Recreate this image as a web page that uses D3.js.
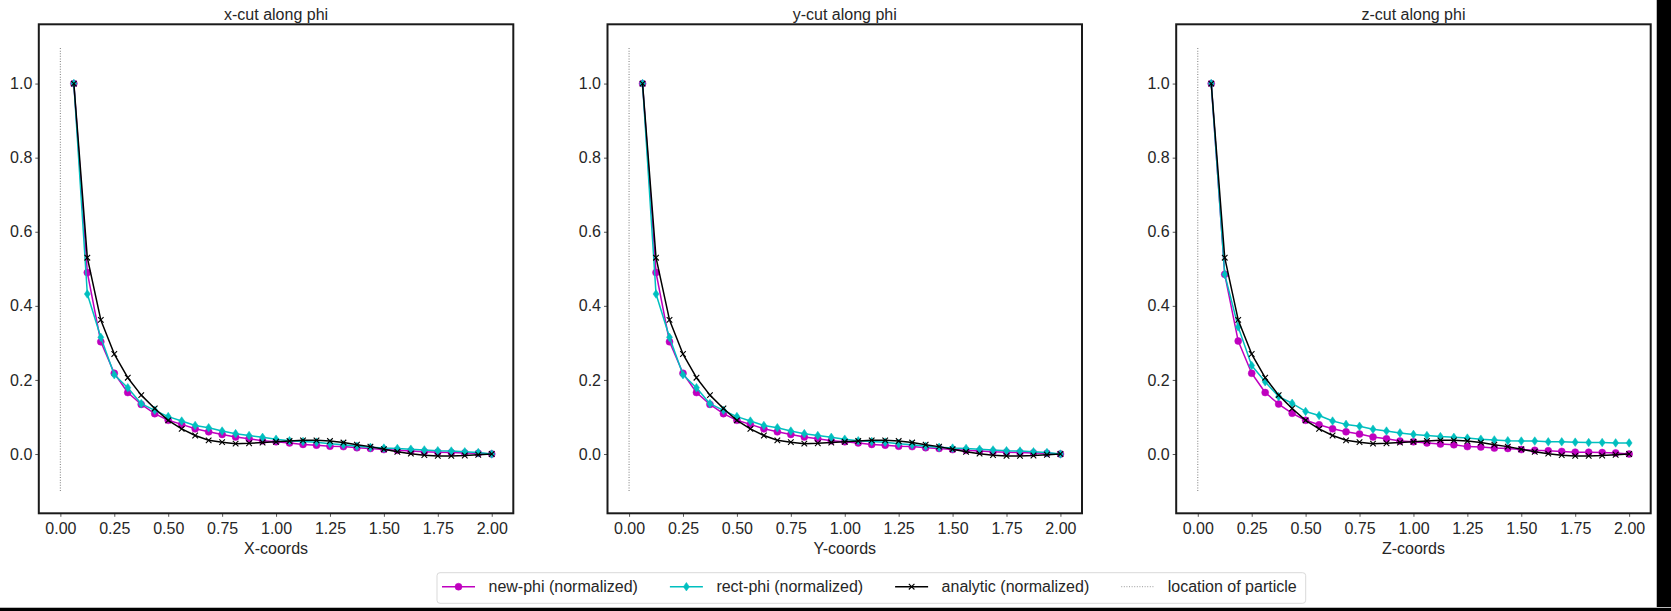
<!DOCTYPE html>
<html>
<head>
<meta charset="utf-8">
<script src="https://cdn.jsdelivr.net/npm/d3@7"></script>
<style>
  html, body { margin: 0; padding: 0; background: #fff; }
  svg text { font-family: "Liberation Sans", Arial, Helvetica, sans-serif; fill: #262626; }
</style>
</head>
<body>
<div id="container"></div>
<script>
"use strict";

const width = 1671;
const height = 611;

// sample positions along the cut (grid step 1/16)
const coords = [0.0625, 0.125, 0.1875, 0.25, 0.3125, 0.375, 0.4375, 0.5,
    0.5625, 0.625, 0.6875, 0.75, 0.8125, 0.875, 0.9375, 1.0,
    1.0625, 1.125, 1.1875, 1.25, 1.3125, 1.375, 1.4375, 1.5,
    1.5625, 1.625, 1.6875, 1.75, 1.8125, 1.875, 1.9375, 2.0];

// normalized potentials
const analytic = [1.0, 0.53, 0.362, 0.27, 0.206, 0.159, 0.123, 0.091,
    0.068, 0.05, 0.037, 0.032, 0.028, 0.029, 0.031, 0.033,
    0.035, 0.037, 0.037, 0.035, 0.031, 0.025, 0.02, 0.013,
    0.006, 0.001, -0.003, -0.005, -0.005, -0.004, -0.002, 0.0];

const newPhiXY = [1.0, 0.49, 0.303, 0.218, 0.166, 0.134, 0.109, 0.091,
    0.08, 0.068, 0.06, 0.053, 0.046, 0.041, 0.036, 0.033,
    0.03, 0.026, 0.024, 0.021, 0.02, 0.017, 0.015, 0.012,
    0.01, 0.008, 0.006, 0.005, 0.004, 0.003, 0.002, 0.0];

const newPhiZ = [1.0, 0.485, 0.305, 0.218, 0.166, 0.135, 0.11, 0.091,
    0.079, 0.068, 0.06, 0.054, 0.046, 0.041, 0.035, 0.033,
    0.03, 0.027, 0.025, 0.02, 0.019, 0.016, 0.015, 0.012,
    0.01, 0.009, 0.007, 0.005, 0.005, 0.004, 0.003, 0.0];

const rectPhiXY = [1.0, 0.432, 0.315, 0.214, 0.179, 0.136, 0.118, 0.101,
    0.089, 0.077, 0.071, 0.062, 0.055, 0.05, 0.045, 0.04,
    0.036, 0.034, 0.032, 0.028, 0.025, 0.021, 0.018, 0.016,
    0.015, 0.013, 0.011, 0.009, 0.008, 0.006, 0.004, 0.0];

const rectPhiZ = [1.0, 0.485, 0.343, 0.239, 0.195, 0.155, 0.137, 0.115,
    0.104, 0.089, 0.08, 0.075, 0.067, 0.062, 0.057, 0.053,
    0.05, 0.047, 0.045, 0.043, 0.04, 0.038, 0.036, 0.035,
    0.035, 0.033, 0.033, 0.032, 0.031, 0.031, 0.03, 0.03];

const titles = ["x-cut along phi", "y-cut along phi", "z-cut along phi"];
const xLabels = ["X-coords", "Y-coords", "Z-coords"];
const newPhiByPanel = [newPhiXY, newPhiXY, newPhiZ];
const rectPhiByPanel = [rectPhiXY, rectPhiXY, rectPhiZ];

const xTicks = [0, 0.25, 0.5, 0.75, 1.0, 1.25, 1.5, 1.75, 2.0];
const yTicks = [0, 0.2, 0.4, 0.6, 0.8, 1.0];
const particleSpan = [-0.1, 1.1];   // dotted marker at x = 0

const legendNames = ["new-phi (normalized)", "rect-phi (normalized)", "analytic (normalized)", "location of particle"];

const magenta = "#bf00bf";
const cyan = "#00bfbf";
const black = "#000";

// layout of the three axes boxes
const panelLefts = [38.8, 607.5, 1176.2];
const panelWidth = 474.5;
const plotTop = 24.3;
const plotBottom = 513.3;

const svg = d3.select("#container").append("svg")
    .attr("width", width)
    .attr("height", height);

svg.append("rect").attr("width", width).attr("height", height).attr("fill", "#fff");

// marker drawing helpers
function drawMarker(g, kind, x, y, color) {
    if (kind === "circle") {
        g.append("circle").attr("cx", x).attr("cy", y).attr("r", 3.5)
            .attr("fill", color).attr("stroke", color).attr("stroke-width", 0.5);
    } else if (kind === "diamond") {
        g.append("path")
            .attr("d", `M${x},${y - 4.3}L${x + 3},${y}L${x},${y + 4.3}L${x - 3},${y}Z`)
            .attr("fill", color).attr("stroke", color).attr("stroke-width", 0.5);
    } else if (kind === "x") {
        const s = 2.8;
        g.append("path")
            .attr("d", `M${x - s},${y - s}L${x + s},${y + s}M${x - s},${y + s}L${x + s},${y - s}`)
            .attr("fill", "none").attr("stroke", color).attr("stroke-width", 1.1);
    }
}

function drawSeries(g, x, y, values, color, kind) {
    const data = coords.map((c, i) => ({ c: c, v: values[i] }));
    g.append("path")
        .datum(data)
        .attr("fill", "none")
        .attr("stroke", color)
        .attr("stroke-width", 1.5)
        .attr("stroke-linejoin", "round")
        .attr("d", d3.line().x(d => x(d.c)).y(d => y(d.v)));
    const mg = g.append("g");
    data.forEach(d => drawMarker(mg, kind, x(d.c), y(d.v), color));
}

titles.forEach((title, p) => {
    const left = panelLefts[p];
    const x = d3.scaleLinear().domain([-0.1, 2.1]).range([left, left + panelWidth]);
    const y = d3.scaleLinear().domain([-0.16, 1.16]).range([plotBottom, plotTop]);

    const g = svg.append("g");

    // axes
    const xAxis = g.append("g")
        .attr("transform", `translate(0,${plotBottom})`)
        .call(d3.axisBottom(x).tickValues(xTicks).tickFormat(d3.format(".2f")).tickSize(3.5).tickPadding(6));
    const yAxis = g.append("g")
        .attr("transform", `translate(${left},0)`)
        .call(d3.axisLeft(y).tickValues(yTicks).tickFormat(d3.format(".1f")).tickSize(3.5).tickPadding(3));
    [xAxis, yAxis].forEach(a => {
        a.select(".domain").remove();
        a.selectAll(".tick line").attr("stroke", "#444").attr("stroke-width", 0.9);
        a.selectAll(".tick text").style("font-size", "16px").attr("fill", "#262626");
    });

    // curves
    const curves = g.append("g");
    drawSeries(curves, x, y, newPhiByPanel[p], magenta, "circle");
    drawSeries(curves, x, y, rectPhiByPanel[p], cyan, "diamond");
    drawSeries(curves, x, y, analytic, black, "x");

    // particle location
    curves.append("line")
        .attr("x1", x(0)).attr("x2", x(0))
        .attr("y1", y(particleSpan[0])).attr("y2", y(particleSpan[1]))
        .attr("stroke", "#888").attr("stroke-width", 1.1)
        .attr("stroke-dasharray", "1,1.6");

    // frame
    g.append("rect")
        .attr("x", left).attr("y", plotTop)
        .attr("width", panelWidth).attr("height", plotBottom - plotTop)
        .attr("fill", "none").attr("stroke", "#1a1a1a").attr("stroke-width", 2);

    // title and x label
    g.append("text")
        .attr("x", left + panelWidth / 2).attr("y", 19.5)
        .attr("text-anchor", "middle").style("font-size", "16px")
        .text(title);
    g.append("text")
        .attr("x", left + panelWidth / 2).attr("y", 553.5)
        .attr("text-anchor", "middle").style("font-size", "16px")
        .text(xLabels[p]);
});

// legend below the panels
const legendLeft = 437;
const legendTop = 572.7;
const legendHeight = 30.6;
const legend = svg.append("g");
const legendBox = legend.append("rect")
    .attr("x", legendLeft).attr("y", legendTop)
    .attr("height", legendHeight).attr("rx", 3)
    .attr("fill", "#fff").attr("stroke", "#d9d9d9").attr("stroke-width", 1);

const legendColors = [magenta, cyan, black, "#999"];
const legendKinds = ["circle", "diamond", "x", null];
let cursor = legendLeft + 5;
const handleY = 586.7;
legendNames.forEach((name, i) => {
    const h = legend.append("g");
    const line = h.append("line")
        .attr("x1", cursor).attr("x2", cursor + 33)
        .attr("y1", handleY).attr("y2", handleY)
        .attr("stroke", legendColors[i])
        .attr("stroke-width", i === 3 ? 1 : 1.5);
    if (i === 3) line.attr("stroke-dasharray", "1,1.6");
    if (legendKinds[i]) drawMarker(h, legendKinds[i], cursor + 16.5, handleY, legendColors[i]);
    const t = legend.append("text")
        .attr("x", cursor + 46.5).attr("y", 591.8)
        .style("font-size", "16px")
        .text(name);
    const w = t.node().getComputedTextLength();
    cursor = cursor + 46.5 + w + 32;
});
legendBox.attr("width", cursor - 32 + 9 - legendLeft);

// dark edges of the captured image
svg.append("rect").attr("x", 1656).attr("y", 0).attr("width", 1).attr("height", height).attr("fill", "#bbb");
svg.append("rect").attr("x", 1657).attr("y", 0).attr("width", width - 1657).attr("height", height).attr("fill", "#000");
svg.append("rect").attr("x", 0).attr("y", 607).attr("width", width).attr("height", 1).attr("fill", "#bbb");
svg.append("rect").attr("x", 0).attr("y", 608).attr("width", width).attr("height", height - 608).attr("fill", "#000");
</script>
</body>
</html>
